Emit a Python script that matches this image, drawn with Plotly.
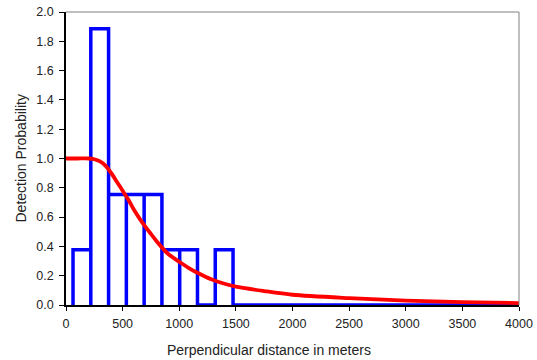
import plotly.graph_objects as go

# Histogram of scaled detection counts (bin edges in meters)
bin_edges = [62, 219, 376, 533, 690, 847, 1004, 1161, 1318, 1475]
bin_heights = [0.377, 1.885, 0.754, 0.754, 0.754, 0.377, 0.377, 0.0, 0.377]

# Fitted detection function
curve_x = [0, 100, 200, 250, 300, 350, 400, 450, 500, 550, 600, 650, 700, 750,
           800, 850, 900, 1000, 1100, 1200, 1300, 1400, 1500, 1750, 2000, 2500,
           3000, 3500, 4000]
curve_y = [1.0, 1.0, 1.0, 0.995, 0.98, 0.95, 0.90, 0.84, 0.78, 0.72, 0.65, 0.59,
           0.535, 0.485, 0.435, 0.39, 0.35, 0.295, 0.245, 0.205, 0.17, 0.145,
           0.125, 0.095, 0.07, 0.047, 0.03, 0.02, 0.013]

x_range = [0, 4000]
y_range = [0, 2.0]
x_ticks = [0, 500, 1000, 1500, 2000, 2500, 3000, 3500, 4000]
y_ticks = [0.0, 0.2, 0.4, 0.6, 0.8, 1.0, 1.2, 1.4, 1.6, 1.8, 2.0]

# Build the outline of each bar as a closed rectangle path along the baseline
hx, hy = [], []
for i, h in enumerate(bin_heights):
    left, right = bin_edges[i], bin_edges[i + 1]
    hx += [left, left, right, right]
    hy += [0, h, h, 0]
hx.append(x_range[1])
hy.append(0)

W, H = 537, 360
ML, MR, MT, MB = 66, 18, 12, 55
PW, PH = W - ML - MR, H - MT - MB

fig = go.Figure()
fig.add_trace(go.Scatter(x=hx, y=hy, mode="lines",
                         line=dict(color="#0000FF", width=3.5),
                         hoverinfo="skip", showlegend=False, cliponaxis=False))
fig.add_trace(go.Scatter(x=curve_x, y=curve_y, mode="lines",
                         line=dict(color="#FF0000", width=3.8, shape="spline", smoothing=0.8),
                         showlegend=False))

tick_font = dict(family="Liberation Sans, Arial, sans-serif", size=12.5, color="#222222")
title_font = dict(family="Liberation Sans, Arial, sans-serif", size=14, color="#222222")

fig.update_layout(
    width=W, height=H,
    margin=dict(l=ML, r=MR, t=MT, b=MB, autoexpand=False),
    paper_bgcolor="white", plot_bgcolor="white",
    font=tick_font,
    xaxis=dict(range=x_range, tickvals=x_ticks, ticks="outside", ticklen=4,
               tickcolor="#000000", showline=True, linecolor="#000000", linewidth=1.5,
               showgrid=False, zeroline=False, tickfont=tick_font, automargin=False,
               ticklabelstandoff=2),
    yaxis=dict(range=y_range, tickvals=y_ticks, tickformat=".1f", ticks="outside",
               ticklen=5, tickcolor="#000000", showline=True, linecolor="#000000",
               linewidth=1.5, showgrid=False, zeroline=False, tickfont=tick_font,
               automargin=False, ticklabelstandoff=3),
    shapes=[
        dict(type="line", xref="paper", yref="paper", x0=0, x1=1, y0=1, y1=1,
             line=dict(color="#808080", width=1)),
        dict(type="line", xref="paper", yref="paper", x0=1, x1=1, y0=0, y1=1,
             line=dict(color="#808080", width=1)),
    ],
    annotations=[
        # x title is centred under the page, slightly left of the plot centre
        dict(text="Perpendicular distance in meters", xref="paper", yref="paper",
             x=(269 - ML) / PW, y=-(340 - (H - MB)) / PH,
             xanchor="center", yanchor="top", showarrow=False, font=title_font),
        dict(text="Detection Probability", xref="paper", yref="paper",
             x=-(ML - 20) / PW, y=0.5, xanchor="center", yanchor="middle",
             textangle=-90, showarrow=False, font=title_font),
    ],
)

fig.write_html("out.html")
